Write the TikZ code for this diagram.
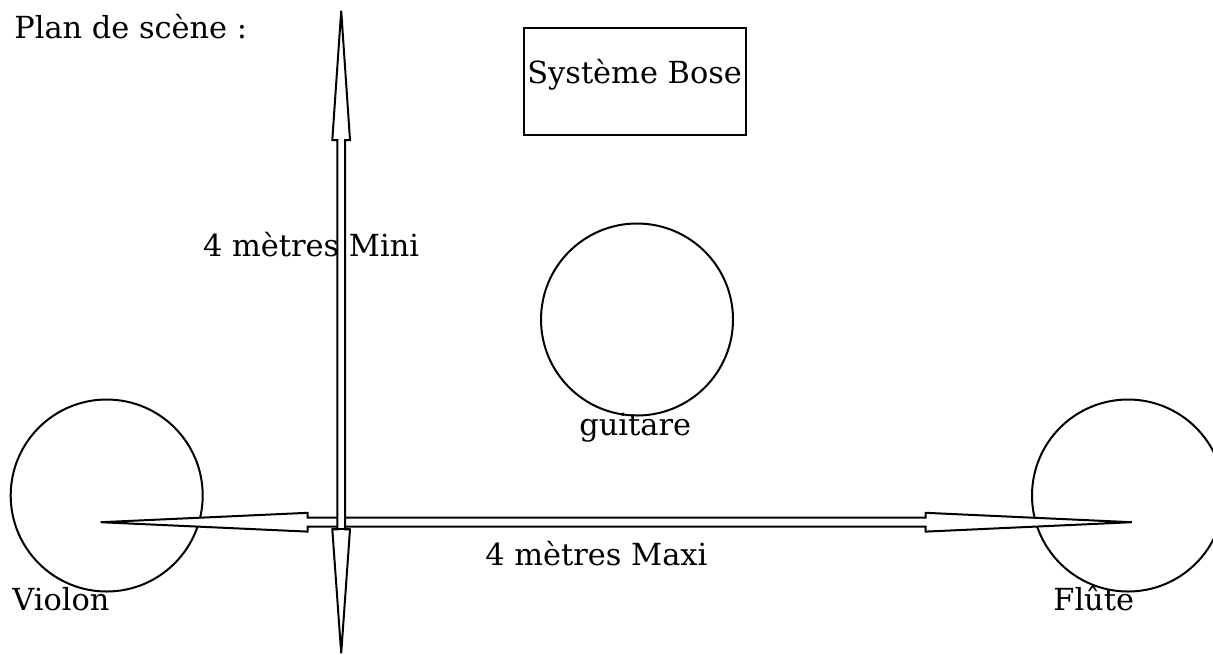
\documentclass[tikz,border=0pt]{standalone}
\usepackage{fontspec}
\setmainfont{DejaVu Serif}
\usepackage{tikz}

\tikzset{
  player/.style={circle, draw, line width=1pt, minimum size=96pt, inner sep=0pt},
  boxzone/.style={draw, line width=1pt, minimum width=111pt, minimum height=53.5pt, inner sep=0pt},
  plantext/.style={anchor=base west, inner sep=0pt, font=\fontsize{15.2}{18}\selectfont},
  blockarrow/.style={draw, fill=white, line width=1pt, line join=miter}
}

\begin{document}
\begin{tikzpicture}[x=0.5pt, y=-0.5pt]
                    \useasboundingbox (0,0) rectangle (1213,654);
                    \node [plantext] (title) at (14,38) {Plan de scène :};
                    \node [boxzone] (bose) at (635,81.5) {};
                    \node [plantext] (bosetext) at (527,83) {Système Bose};
                    \node [player] (guitare) at (637,319.5) {};
                    \node [plantext] (guitaretext) at (579,435) {guitare};
                    \node [player] (violon) at (106.7,495.5) {};
                    \node [plantext] (violontext) at (12,610) {Violon};
                    \node [player] (flute) at (1128,495.5) {};
                    \node [plantext] (flutetext) at (1053,610) {Flûte};
                    % largeur
                    \draw [blockarrow] (100.7,522.2) -- (307.7,512.8) -- (307.7,517.7) -- (925.7,517.7) -- (925.7,512.8)
                        -- (1131.7,522.2) -- (925.7,531.6) -- (925.7,526.7) -- (307.7,526.7) -- (307.7,531.6) -- cycle;
                    % profondeur
                    \draw [blockarrow] (341.2,10.7) -- (350,140) -- (345,140) -- (345,529.3) -- (350,529.3)
                        -- (341.2,653.3) -- (332.3,529.3) -- (337.3,529.3) -- (337.3,140) -- (332.3,140) -- cycle;
                    \draw [line width=1pt] (332.3,529.3) -- (350,529.3);
                    \node [plantext] (mini) at (202.7,256) {4 mètres Mini};
                    \node [plantext] (maxi) at (485,565) {4 mètres Maxi};
                \end{tikzpicture}
\end{document}
